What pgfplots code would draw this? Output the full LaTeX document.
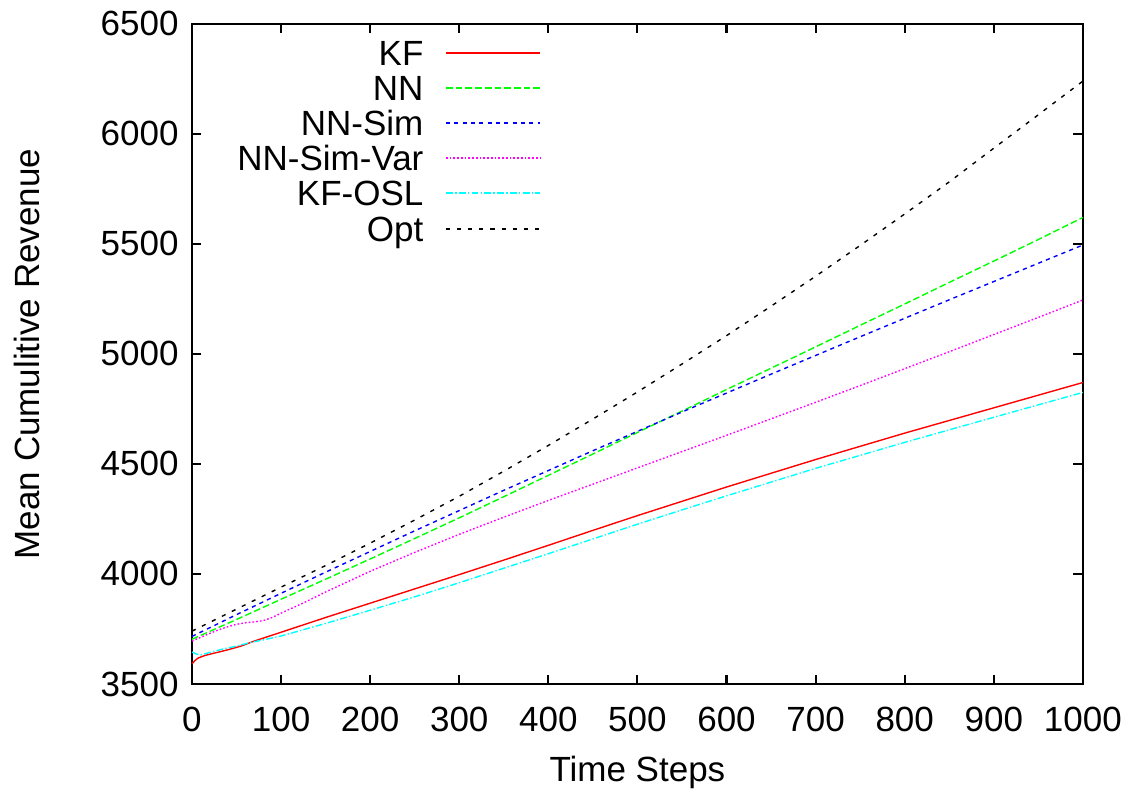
\documentclass[border=0pt]{standalone}
\usepackage{fontspec}
\setmainfont{Liberation Sans}
\usepackage{pgfplots}
\pgfplotsset{compat=1.18}
\definecolor{KFred}{rgb}{1,0,0}
\definecolor{NNgreen}{rgb}{0,1,0}
\definecolor{SIMblue}{rgb}{0,0,1}
\definecolor{VARmagenta}{rgb}{1,0,1}
\definecolor{OSLcyan}{rgb}{0,1,1}
\newcommand{\lf}{\fontsize{12.6}{15}\selectfont}
\tikzset{
  sKF/.style={draw=KFred, solid, line width=0.5pt},
  sNN/.style={draw=NNgreen, dash pattern=on 2.4pt off 1.1pt, line width=0.5pt},
  sSIM/.style={draw=SIMblue, dash pattern=on 1.5pt off 1.5pt, line width=0.5pt},
  sVAR/.style={draw=VARmagenta, dash pattern=on 0.6pt off 0.75pt, line width=0.5pt},
  sOSL/.style={draw=OSLcyan, dash pattern=on 2.5pt off 0.8pt on 0.5pt off 0.8pt, line width=0.5pt},
  sOPT/.style={draw=black, dash pattern=on 1.5pt off 2.5pt, line width=0.5pt},
  legtxt/.style={anchor=east, font=\lf, inner sep=0pt, text height=9.1pt, text depth=0pt},
}
\newcommand{\legrow}[3]{%
  \node[legtxt] at (axis description cs:0.2604,#1) {#2};
  \draw[#3] (axis description cs:0.2851,#1) -- (axis description cs:0.3906,#1);}
\begin{document}
\begin{tikzpicture}
\useasboundingbox (0,0) rectangle (410pt,286.5pt);
\begin{axis}[
  at={(69.1pt,40.3pt)}, anchor=south west,
  scale only axis, width=320.7pt, height=237.6pt,
  xmin=0, xmax=1000, ymin=3500, ymax=6500,
  xtick={0,100,...,1000}, ytick={3500,4000,...,6500},
  tick pos=both, tick align=inside, major tick length=3.4pt,
  axis line style={line width=0.75pt}, every tick/.style={line width=0.75pt, black},
  /pgf/number format/assume math mode=true,
  /pgf/number format/1000 sep={},
  tick label style={font=\lf},
  xticklabel style={yshift=-4.8pt},
  yticklabel style={xshift=-1.3pt},
  xlabel={Time Steps}, ylabel={Mean Cumulitive Revenue},
  label style={font=\lf},
  xlabel style={yshift=-2pt},
  ylabel style={yshift=15pt},
  clip=false,
]
\addplot[sKF] coordinates {(0,3591)(3,3605)(7,3618)(15,3630)(25,3640)(40,3655)(55,3672)(70,3695)(85,3715)(100,3735)(150,3802)(200,3867)(250,3932)(300,3997)(350,4063)(400,4130)(450,4198)(500,4265)(600,4395)(700,4520)(800,4640)(900,4755)(1000,4870)};
\addplot[sNN] coordinates {(0,3703)(50,3793)(100,3885)(150,3976)(200,4068)(250,4161)(300,4255)(350,4351)(400,4448)(450,4545)(500,4643)(550,4740)(600,4838)(650,4935)(700,5032)(750,5130)(800,5227)(850,5325)(900,5422)(950,5520)(1000,5620)};
\addplot[sSIM] coordinates {(0,3716)(50,3815)(100,3912)(150,4008)(200,4102)(250,4196)(300,4288)(350,4380)(400,4470)(450,4560)(500,4648)(550,4736)(600,4822)(650,4908)(700,4993)(750,5078)(800,5162)(850,5246)(900,5329)(950,5412)(1000,5495)};
\addplot[sVAR] coordinates {(0,3695)(10,3712)(20,3730)(30,3746)(40,3760)(50,3771)(60,3778)(70,3782)(80,3788)(90,3802)(100,3822)(125,3868)(150,3918)(200,4012)(250,4098)(300,4180)(350,4258)(400,4334)(450,4408)(500,4482)(550,4556)(600,4630)(650,4705)(700,4780)(750,4856)(800,4933)(850,5010)(900,5088)(950,5166)(1000,5245)};
\addplot[sOSL] coordinates {(0,3645)(5,3636)(10,3632)(20,3643)(35,3659)(50,3672)(65,3688)(80,3700)(100,3718)(150,3775)(200,3835)(250,3896)(300,3960)(350,4026)(400,4092)(450,4159)(500,4226)(550,4291)(600,4355)(700,4480)(800,4598)(900,4712)(1000,4825)};
\addplot[sOPT] coordinates {(0,3740)(50,3840)(100,3940)(150,4038)(200,4140)(250,4245)(300,4353)(350,4467)(400,4584)(450,4704)(500,4827)(550,4954)(600,5083)(650,5217)(700,5353)(750,5493)(800,5636)(850,5782)(900,5935)(950,6087)(1000,6240)};
\legrow{0.9561}{KF}{sKF}
\legrow{0.9030}{NN}{sNN}
\legrow{0.8500}{NN-Sim}{sSIM}
\legrow{0.7970}{NN-Sim-Var}{sVAR}
\legrow{0.7439}{KF-OSL}{sOSL}
\legrow{0.6894}{Opt}{sOPT}
\end{axis}
\end{tikzpicture}
\end{document}
